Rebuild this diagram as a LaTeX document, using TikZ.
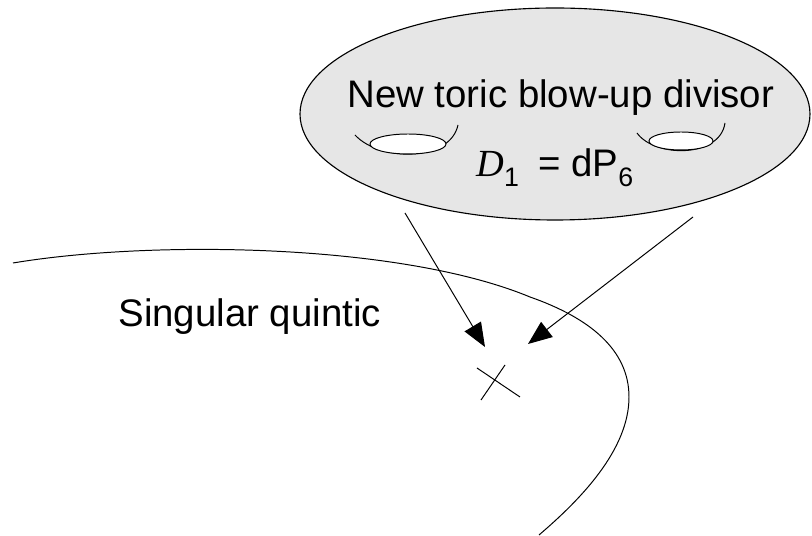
\documentclass[tikz,border=0pt]{standalone}
\usepackage{fontspec}
\setmainfont{Liberation Sans}
\newfontfamily\timesfont{Liberation Serif}
\usepackage{tikz}
\usetikzlibrary{arrows.meta}
\definecolor{DIVgray}{HTML}{E6E6E6}
\tikzset{
  pointer/.style={line width=0.7pt, -{Triangle[length=17pt, width=13.5pt]}},
  label text/.style={anchor=base west, inner sep=0pt, font=\fontsize{27.3}{32}\selectfont}
}

\begin{document}
\begin{tikzpicture}[x=0.025cm, y=-0.025cm, line width=0.7pt]
        \useasboundingbox (0,0) rectangle (812,536);
        \filldraw[fill=DIVgray, line width=0.8pt] (555,114) ellipse (255 and 106);
        \draw (355,135) .. controls (380,162) and (450,162) .. (458,125);
        \filldraw[fill=white] (408,144) ellipse (38 and 10);
        \draw (637,133) .. controls (655,158) and (720,158) .. (725,123);
        \filldraw[fill=white] (681,141) ellipse (32 and 9);
        \node[label text] (title) at (347,108) {New toric blow-up divisor};
        \node[label text] (dpsix) at (476,177)
          {{\timesfont\itshape D}\raisebox{-7pt}{\fontsize{19}{20}\selectfont 1}\hspace{0.5em}= dP\raisebox{-7pt}{\fontsize{19}{20}\selectfont 6}};
        \draw (13,263) .. controls (150,240) and (400,243) .. (530,297)
          .. controls (590,318) and (629,350) .. (629,397)
          .. controls (629,450) and (580,500) .. (539,535);
        \node[label text] (quintic) at (118,327) {Singular quintic};
        \draw (477,368) -- (520,397);
        \draw (505,365) -- (481,400);
        \coordinate (srcL) at (405,213);
        \coordinate (tipL) at (485,347);
        \coordinate (srcR) at (693,217);
        \coordinate (tipR) at (528,344);
        \draw[pointer] (srcL) -- (tipL);
        \draw[pointer] (srcR) -- (tipR);
      \end{tikzpicture}
\end{document}
